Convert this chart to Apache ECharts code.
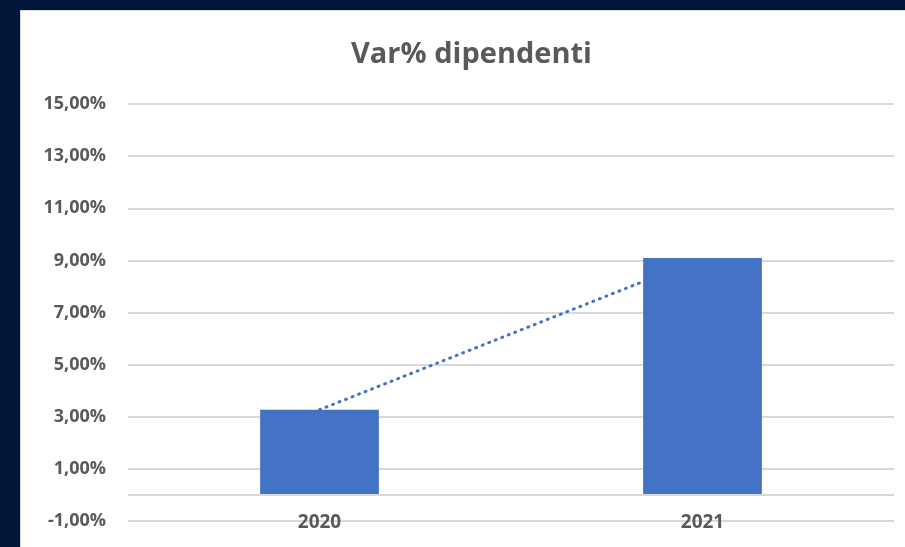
<!DOCTYPE html>
<html>
<head>
<meta charset="utf-8">
<script src="https://cdn.jsdelivr.net/npm/echarts@6/dist/echarts.min.js"></script>
<style>
    html, body {margin: 0; padding: 0; width: 905px; height: 547px; background: #011639; overflow: hidden;}
    #panel {position: absolute; left: 20px; top: 10px; width: 885px; height: 537px; background: #ffffff;
        border-top: 1px solid #d9d9d9; border-left: 1px solid #d9d9d9; box-sizing: border-box;}
    #main {width: 100%; height: 100%;}
</style>
</head>
<body>
<div id="panel"><div id="main"></div></div>
<script>
    // dati
    var titolo = 'Var% dipendenti';
    var anni = ['2020', '2021'];
    var varDipendenti = [3.27, 9.09];
    // tendenza lineare (due punti: passa per i valori)
    var tendenza = [3.27, 9.09];
    var yMin = -1, yMax = 15, yStep = 2;

    var chart = echarts.init(document.getElementById('main'));
    var grigio = '#595959';
    var font = 'Open Sans';
    var option = {
        animation: false,
        title: {
            text: titolo,
            left: 325,
            top: 24,
            textStyle: {fontFamily: font, fontSize: 29, fontWeight: 'bold', color: grigio}
        },
        grid: {left: 107, right: 11, top: 93, bottom: 26},
        xAxis: {
            type: 'category',
            data: anni,
            axisLine: {show: false},
            axisTick: {show: false},
            axisLabel: {
                margin: 2,
                verticalAlign: 'middle',
                fontFamily: font, fontSize: 19, fontWeight: 'bold', color: grigio
            }
        },
        yAxis: {
            type: 'value',
            min: yMin,
            max: yMax,
            interval: yStep,
            axisLine: {show: false},
            axisTick: {show: false},
            splitLine: {lineStyle: {color: '#d9d9d9', width: 2}},
            axisLabel: {
                margin: 22,
                fontFamily: font, fontSize: 18, fontWeight: 'bold', color: grigio,
                formatter: function (v) {
                    return v.toFixed(2).replace('.', ',') + '%';
                }
            }
        },
        series: [{
            name: 'tendenza',
            type: 'line',
            data: tendenza,
            z: 1,
            symbol: 'none',
            lineStyle: {color: '#4472c4', width: 3, type: [1, 6], cap: 'round'}
        }, {
            name: titolo,
            type: 'bar',
            data: varDipendenti,
            z: 3,
            barWidth: '31%',
            itemStyle: {color: '#4472c4'},
            markLine: {
                silent: true,
                symbol: 'none',
                label: {show: false},
                lineStyle: {color: '#d9d9d9', width: 2, type: 'solid'},
                data: [{yAxis: 0}]
            }
        }]
    };
    chart.setOption(option);
</script>
</body>
</html>
